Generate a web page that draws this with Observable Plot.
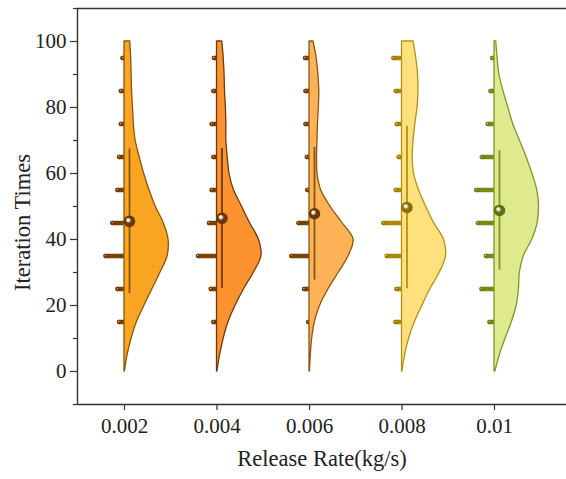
<!DOCTYPE html>
<html><head><meta charset="utf-8">
<script src="https://cdn.jsdelivr.net/npm/d3@7"></script>
<script src="https://cdn.jsdelivr.net/npm/@observablehq/plot@0.6"></script>
<style>body{margin:0;background:#fff}#chart{width:566px;height:479px}</style>
</head><body><div id="chart"></div>
<script>
// ---- data ----
const rates = [0.002, 0.004, 0.006, 0.008, 0.01];
const rateLabels = ["0.002", "0.004", "0.006", "0.008", "0.01"];
const binCenters = [15, 25, 35, 45, 55, 65, 75, 85, 95];
const counts1 = [3, 4, 11, 7, 4, 3, 2, 2, 1];
const counts2 = [2, 3.5, 11, 4.5, 3, 2, 3, 2, 1.6];
const counts3 = [0.6, 3, 10.5, 6.3, 1.1, 1.4, 2.2, 2.2, 2.4];
const counts4 = [3.7, 3.1, 8.8, 10.8, 3.5, 1.8, 2.9, 3.5, 4.9];
const counts5 = [2.8, 7.5, 4.9, 9.6, 10.6, 7.3, 3.8, 2.2, 1.2];
const densLevels = [0,5,10,15,20,25,30,35,40,45,50,55,60,65,70,75,80,85,90,95,100];
const dens1 = [0.01,0.07,0.16,0.28,0.45,0.63,0.81,0.97,0.99,0.88,0.70,0.56,0.44,0.34,0.25,0.21,0.19,0.17,0.16,0.15,0.13];
const dens2 = [0.01,0.07,0.15,0.26,0.42,0.61,0.83,1.00,0.94,0.74,0.56,0.38,0.28,0.24,0.21,0.21,0.20,0.18,0.17,0.15,0.12];
const dens3 = [0.01,0.03,0.06,0.12,0.24,0.43,0.66,0.88,0.99,0.74,0.47,0.26,0.18,0.17,0.18,0.19,0.21,0.22,0.20,0.16,0.09];
const dens4 = [0.01,0.07,0.16,0.29,0.46,0.64,0.85,0.99,0.94,0.72,0.54,0.38,0.27,0.24,0.26,0.30,0.35,0.37,0.36,0.32,0.26];
const dens5 = [0.02,0.12,0.25,0.39,0.50,0.55,0.57,0.66,0.85,0.97,1.00,0.96,0.85,0.72,0.57,0.42,0.31,0.20,0.11,0.07,0.04];
const means = [45.5, 46.4, 47.8, 49.7, 48.8];
const sds = [21.9, 21.2, 20.1, 24.6, 18.1];
const yMajorTicks = [0, 20, 40, 60, 80, 100];
const yMinorTicks = [-10, 10, 30, 50, 70, 90, 110];
const yTitle = "Iteration Times";
const xTitle = "Release Rate(kg/s)";

// ---- styles ----
const fills = ["#FAA522", "#FD9330", "#FEB257", "#FFE07E", "#DEEA8D"];
const edges = ["#8A560C", "#6E3A0C", "#8A5512", "#B3920F", "#7F972A"];
const barColors = ["#7A4200", "#7A4200", "#7A4200", "#A88900", "#738C14"];
const beadDark = ["#6A3800", "#6A3800", "#6A3800", "#8A7000", "#5F7410"];

const counts = [counts1, counts2, counts3, counts4, counts5];
const dens = [dens1, dens2, dens3, dens4, dens5];

const pxPerUnit = 92.5 / 0.002;
const xDomain = [0.002 - 47 / pxPerUnit, 0.01 + 72 / pxPerUnit];
const violinMax = 44.5 / pxPerUnit;   // half-violin max width
const barUnit = 1.7 / pxPerUnit;      // bar length per count

const marks = [];
rates.forEach((r, i) => {
  const bars = binCenters.map((b, j) => ({y: b, x1: r - counts[i][j] * barUnit, x2: r}));
  marks.push(Plot.ruleY(bars, {y: "y", x1: "x1", x2: "x2", stroke: barColors[i], strokeWidth: 4.3, strokeLinecap: "round"}));
  marks.push(Plot.dot(bars, {x: "x1", y: "y", r: 2.2, fill: `url(#bead${i})`, stroke: "none"}));
});
rates.forEach((r, i) => {
  const area = densLevels.map((v, j) => ({v, x0: r, x: r + dens[i][j] * violinMax}));
  marks.push(Plot.areaX(area, {y: "v", x1: "x0", x2: "x", fill: fills[i], stroke: edges[i], strokeWidth: 1.3, curve: "catmull-rom"}));
});
rates.forEach((r, i) => {
  marks.push(Plot.ruleX([r], {x: d => d, y1: means[i] - sds[i], y2: means[i] + sds[i], dx: 5, stroke: edges[i], strokeWidth: 1.8}));
  marks.push(Plot.dot([r], {x: d => d, y: means[i], dx: 5, r: 5.8, fill: `url(#sphere${i})`, stroke: "none"}));
});

const axisColor = "#333";
marks.push(
  Plot.ruleY([110], {stroke: axisColor, strokeWidth: 1.4}),
  Plot.ruleY([-10], {stroke: axisColor, strokeWidth: 1.4}),
  Plot.ruleX([xDomain[0]], {stroke: axisColor, strokeWidth: 1.4}),
  Plot.axisY({ticks: yMinorTicks, tickSize: 4, tickFormat: () => "", stroke: axisColor, strokeWidth: 1.2}),
  Plot.axisY({ticks: yMajorTicks, tickSize: 7, tickPadding: 4, fontSize: 21, stroke: axisColor, strokeWidth: 1.2, fill: "#222", label: null}),
  Plot.axisX({ticks: rates, tickFormat: (d, i) => rateLabels[i], tickSize: 6, tickPadding: 8, fontSize: 21, stroke: axisColor, strokeWidth: 1.2, fill: "#222", label: null}),
  Plot.text([yTitle], {frameAnchor: "left", textAnchor: "middle", dx: -55, dy: 16, rotate: -90, fontSize: 22.5, fill: "#222", text: d => d}),
  Plot.text([xTitle], {frameAnchor: "bottom", textAnchor: "middle", dy: 61, fontSize: 22.5, fill: "#222", text: d => d})
);

const svg = Plot.plot({
  width: 566, height: 479,
  marginLeft: 77, marginRight: 0, marginTop: 8, marginBottom: 75,
  style: {fontFamily: "'Liberation Serif', 'Times New Roman', serif", background: "#fff", overflow: "visible"},
  x: {type: "linear", domain: xDomain, axis: null},
  y: {domain: [-10, 110], axis: null},
  marks
});

// gradients for the 3D beads and spheres
const ns = "http://www.w3.org/2000/svg";
const defs = document.createElementNS(ns, "defs");
function radial(id, stops) {
  const g = document.createElementNS(ns, "radialGradient");
  g.setAttribute("id", id);
  g.setAttribute("cx", "0.5"); g.setAttribute("cy", "0.5"); g.setAttribute("r", "0.55");
  g.setAttribute("fx", "0.35"); g.setAttribute("fy", "0.35");
  stops.forEach(([o, c]) => {
    const s = document.createElementNS(ns, "stop");
    s.setAttribute("offset", o); s.setAttribute("stop-color", c);
    g.appendChild(s);
  });
  defs.appendChild(g);
}
beadDark.forEach((c, i) => {
  radial(`sphere${i}`, [["0", "#ffffff"], ["0.22", "#e8e2d6"], ["0.45", c], ["1", c]]);
  radial(`bead${i}`, [["0", "#f5e9d0"], ["0.35", barColors[i]], ["1", c]]);
});
svg.insertBefore(defs, svg.firstChild);
document.getElementById("chart").appendChild(svg);
</script>
</body></html>
